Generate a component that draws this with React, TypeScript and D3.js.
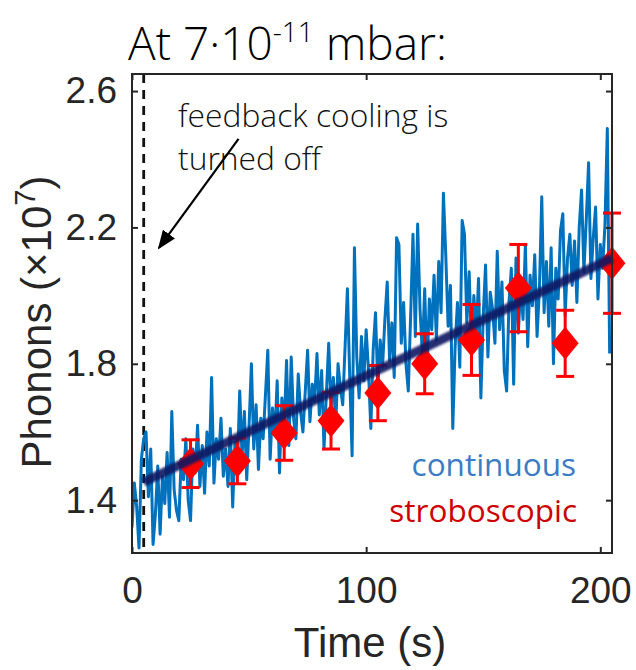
import React, { useEffect, useRef } from "react";
import * as d3 from "d3";

// continuous read-out, one sample per second from t = 0
const continuousPhonons = [
  1.32, 1.45, 1.38, 1.26, 1.52, 1.58, 1.6, 1.41, 1.55, 1.27,
  1.36, 1.5, 1.3, 1.47, 1.39, 1.54, 1.35, 1.66, 1.43, 1.37,
  1.34, 1.52, 1.46, 1.58, 1.4, 1.34, 1.55, 1.48, 1.62, 1.44,
  1.56, 1.42, 1.6, 1.5, 1.76, 1.45, 1.58, 1.52, 1.64, 1.47,
  1.55, 1.44, 1.61, 1.38, 1.57, 1.49, 1.72, 1.53, 1.66, 1.46,
  1.62, 1.8, 1.55, 1.68, 1.49, 1.64, 1.58, 1.71, 1.84, 1.52,
  1.67, 1.59, 1.75, 1.48, 1.7, 1.61, 1.81, 1.56, 1.82, 1.64,
  1.58, 1.77, 1.66, 1.6, 1.72, 1.84, 1.63, 1.74, 1.69, 1.83,
  1.65, 1.78, 1.55, 1.71, 1.86, 1.67, 1.76, 1.62, 1.8, 1.73,
  1.68, 1.85, 2.02, 1.76, 1.53, 2.14, 1.82, 1.7, 1.88, 1.75,
  1.9, 1.78, 1.61, 1.84, 1.95, 1.73, 1.87, 1.79, 1.93, 2.04,
  1.81, 1.92, 1.76, 2.17, 2.15, 1.86, 1.98, 1.8, 1.72, 1.94,
  2.18, 1.88, 2.21, 1.96, 1.83, 2.02, 1.78, 1.99, 1.9, 2.06,
  1.87, 2.1, 1.95, 2.3, 2.12, 1.91, 2.03, 1.61, 1.85, 1.98,
  1.79, 2.22, 2.18, 1.92, 2.07, 1.84, 2.0, 1.88, 2.05, 1.7,
  1.94, 2.09, 1.82, 2.01, 1.96, 1.86, 2.13, 1.9, 2.04, 1.78,
  1.72, 1.98, 2.08, 1.74, 2.11, 1.89, 2.03, 1.93, 2.15, 1.85,
  2.06, 1.97, 2.12, 1.88, 2.02, 2.29, 1.95, 2.1, 1.91, 2.14,
  1.8, 2.08, 1.99, 2.19, 2.24, 1.94, 2.11, 2.18, 2.03, 2.16,
  1.98, 2.2, 2.31, 2.07, 2.22, 2.39, 2.05, 2.17, 2.26, 1.99,
  2.15, 2.08, 2.21, 2.49, 1.83,
];

const strobeTimes = [25, 45, 65, 85, 105, 125, 145, 165, 185, 205];
const strobePhonons = [1.507, 1.515, 1.597, 1.633, 1.714, 1.8, 1.87, 2.022, 1.86, 2.095];
const strobeErrors = [0.07, 0.067, 0.08, 0.083, 0.081, 0.088, 0.104, 0.128, 0.097, 0.147];

const fitTimes = [5, 205];
const fitPhonons = [1.453, 2.11];

const xTicks = [0, 100, 200];
const yTicks = [1.4, 1.8, 2.2, 2.6];
const coolingOffTime = 5;

function Chart() {
  const ref = useRef<SVGSVGElement>(null);

  useEffect(() => {
    const width = 636;
    const height = 670;
    const left = 132, right = 612, top = 74, bottom = 553;
    const axisColor = "#262626";
    const labelFont = "'Liberation Sans', Arial, sans-serif";
    const textFont = "'Open Sans', sans-serif";

    const svg = d3.select(ref.current);
    svg.selectAll("*").remove();
    svg.attr("width", width).attr("height", height);

    const x = d3.scaleLinear().domain([0, 205]).range([left, right]);
    const y = d3.scaleLinear().domain([1.245, 2.65]).range([bottom, top]);

    const defs = svg.append("defs");
    defs
      .append("clipPath")
      .attr("id", "plot-clip")
      .append("rect")
      .attr("x", left)
      .attr("y", top)
      .attr("width", right - left)
      .attr("height", bottom - top);
    defs
      .append("filter")
      .attr("id", "soft")
      .attr("x", "-10%")
      .attr("y", "-10%")
      .attr("width", "120%")
      .attr("height", "120%")
      .append("feGaussianBlur")
      .attr("stdDeviation", 1.1);
    defs
      .append("marker")
      .attr("id", "arrow")
      .attr("viewBox", "0 0 10 10")
      .attr("refX", 9)
      .attr("refY", 5)
      .attr("markerWidth", 19)
      .attr("markerHeight", 15)
      .attr("markerUnits", "userSpaceOnUse")
      .attr("orient", "auto")
      .attr("preserveAspectRatio", "none")
      .append("path")
      .attr("d", "M0,0 L10,5 L0,10 z")
      .attr("fill", "#000");

    const plot = svg.append("g").attr("clip-path", "url(#plot-clip)");

    // dashed marker where feedback is switched off
    plot
      .append("line")
      .attr("x1", x(coolingOffTime))
      .attr("x2", x(coolingOffTime))
      .attr("y1", top)
      .attr("y2", bottom)
      .attr("stroke", "#111")
      .attr("stroke-width", 2.8)
      .attr("stroke-dasharray", "9,7");

    const line = d3
      .line<number>()
      .x((d, i) => x(i))
      .y((d) => y(d));

    plot
      .append("path")
      .datum(continuousPhonons)
      .attr("d", line)
      .attr("fill", "none")
      .attr("stroke", "#0072BD")
      .attr("stroke-width", 3)
      .attr("stroke-linejoin", "round");

    const strobe = strobeTimes.map((t, i) => ({
      t,
      v: strobePhonons[i],
      e: strobeErrors[i],
    }));

    const pts = svg.append("g");
    const bars = pts
      .selectAll("g.err")
      .data(strobe)
      .enter()
      .append("g")
      .attr("class", "err")
      .attr("stroke", "#ff0000")
      .attr("stroke-width", 3);
    bars
      .append("line")
      .attr("x1", (d) => x(d.t))
      .attr("x2", (d) => x(d.t))
      .attr("y1", (d) => y(d.v - d.e))
      .attr("y2", (d) => y(d.v + d.e));
    [1, -1].forEach((s) => {
      bars
        .append("line")
        .attr("x1", (d) => x(d.t) - 9)
        .attr("x2", (d) => x(d.t) + 9)
        .attr("y1", (d) => y(d.v + s * d.e))
        .attr("y2", (d) => y(d.v + s * d.e));
    });
    pts
      .selectAll("path.diamond")
      .data(strobe)
      .enter()
      .append("path")
      .attr("class", "diamond")
      .attr("d", (d) => {
        const cx = x(d.t), cy = y(d.v);
        return `M${cx},${cy - 16.5}L${cx + 13.5},${cy}L${cx},${cy + 16.5}L${cx - 13.5},${cy}Z`;
      })
      .attr("fill", "#ff0000");

    // linear fit drawn over everything, slightly soft
    svg
      .append("path")
      .datum(fitTimes.map((t, i) => [t, fitPhonons[i]] as [number, number]))
      .attr("d", d3.line().x((d) => x(d[0])).y((d) => y(d[1])))
      .attr("fill", "none")
      .attr("stroke", "#121862")
      .attr("stroke-opacity", 0.9)
      .attr("stroke-width", 9)
      .attr("filter", "url(#soft)");

    // axes box with inward ticks
    const styleAxis = (g: any, labels: boolean) => {
      g.select(".domain").remove();
      g.selectAll(".tick line").attr("stroke", axisColor).attr("stroke-width", 2);
      g.selectAll(".tick text")
        .attr("fill", labels ? axisColor : "none")
        .style("font-family", labelFont)
        .style("font-size", "37px");
    };

    svg
      .append("g")
      .attr("transform", `translate(0,${bottom})`)
      .call(d3.axisBottom(x).tickValues(xTicks).tickSizeInner(-6).tickSizeOuter(0).tickPadding(24))
      .call((g: any) => styleAxis(g, true));
    svg
      .append("g")
      .attr("transform", `translate(0,${top})`)
      .call(d3.axisTop(x).tickValues(xTicks).tickSizeInner(-6).tickSizeOuter(0).tickFormat(() => ""))
      .call((g: any) => styleAxis(g, false));
    svg
      .append("g")
      .attr("transform", `translate(${left},0)`)
      .call(d3.axisLeft(y).tickValues(yTicks).tickSizeInner(-6).tickSizeOuter(0).tickPadding(15).tickFormat(d3.format(".1f")))
      .call((g: any) => styleAxis(g, true));
    svg
      .append("g")
      .attr("transform", `translate(${right},0)`)
      .call(d3.axisRight(y).tickValues(yTicks).tickSizeInner(-6).tickSizeOuter(0).tickFormat(() => ""))
      .call((g: any) => styleAxis(g, false));

    svg
      .append("rect")
      .attr("x", left)
      .attr("y", top)
      .attr("width", right - left)
      .attr("height", bottom - top)
      .attr("fill", "none")
      .attr("stroke", axisColor)
      .attr("stroke-width", 2);

    // axis titles
    svg
      .append("text")
      .attr("x", 370)
      .attr("y", 657)
      .attr("text-anchor", "middle")
      .attr("fill", axisColor)
      .style("font-family", labelFont)
      .style("font-size", "42px")
      .text("Time (s)");

    const yl = svg
      .append("text")
      .attr("transform", "translate(51,322) rotate(-90)")
      .attr("text-anchor", "middle")
      .attr("fill", axisColor)
      .style("font-family", labelFont)
      .style("font-size", "42px");
    yl.append("tspan").text("Phonons (\u00d710");
    yl.append("tspan").attr("dy", -16).style("font-size", "29px").text("7");
    yl.append("tspan").attr("dy", 16).text(")");

    // title
    const title = svg
      .append("text")
      .attr("x", 128)
      .attr("y", 60)
      .attr("fill", "#000")
      .style("font-family", textFont)
      .style("font-weight", 300)
      .style("font-size", "46px");
    title.append("tspan").text("At 7\u00b710");
    title.append("tspan").attr("dy", -18).style("font-size", "28px").text("-11");
    title.append("tspan").attr("dy", 18).text(" mbar:");

    // annotation with arrow
    const note = svg
      .append("text")
      .attr("fill", "#111")
      .style("font-family", textFont)
      .style("font-weight", 300)
      .style("font-size", "31.8px");
    note.append("tspan").attr("x", 178).attr("y", 127).text("feedback cooling is");
    note.append("tspan").attr("x", 178).attr("y", 170).text("turned off");

    svg
      .append("line")
      .attr("x1", x(45.5))
      .attr("y1", y(2.46))
      .attr("x2", x(11.5))
      .attr("y2", y(2.14))
      .attr("stroke", "#000")
      .attr("stroke-width", 2.2)
      .attr("marker-end", "url(#arrow)");

    // legend
    svg
      .append("text")
      .attr("x", 576)
      .attr("y", 476)
      .attr("text-anchor", "end")
      .attr("fill", "#3b7cc4")
      .style("font-family", textFont)
      .style("font-size", "31.5px")
      .text("continuous");
    svg
      .append("text")
      .attr("x", 577)
      .attr("y", 522)
      .attr("text-anchor", "end")
      .attr("fill", "#cc0000")
      .style("font-family", textFont)
      .style("font-size", "31.5px")
      .text("stroboscopic");
  }, []);

  return <svg ref={ref} style={{ position: "absolute", left: 0, top: 0 }} />;
}

export default function App() {
  return <Chart />;
}
